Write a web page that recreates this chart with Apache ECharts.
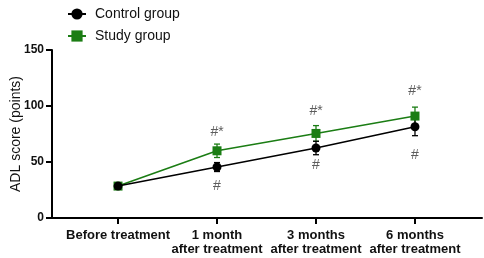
<!DOCTYPE html>
<html>
<head>
<meta charset="utf-8">
<script src="https://cdn.jsdelivr.net/npm/echarts@6/dist/echarts.min.js"></script>
<style>
  html, body { margin: 0; padding: 0; background: #fff; }
  #container { width: 484px; height: 258px; }
</style>
</head>
<body>
<div id="container"></div>
<script>
// time points on the x axis
const categories = ['Before treatment', '1 month\nafter treatment', '3 months\nafter treatment', '6 months\nafter treatment'];
const yTicks = [0, 50, 100, 150];

// group means and SD
const controlMean = [28.5, 45.5, 62.5, 81.5];
const controlSd = [2, 4, 6, 8];
const studyMean = [28.5, 60, 75.5, 91];
const studySd = [2, 6, 7, 8];

// significance marks, placed in data units
const studyMarks = ['', '#*', '#*', '#*'];
const studyMarkY = [null, 76.5, 95.5, 113];
const controlMarks = ['', '#', '#', '#'];
const controlMarkY = [null, 28, 47.5, 56.5];

const GREEN = '#1b7d14';
const FONT = 'Liberation Sans';

let dom = document.getElementById('container');
let myChart = echarts.init(dom);

function lineData(vals) {
    return vals.map((v, i) => [i, v]);
}

function errData(mean, sd) {
    return mean.map((v, i) => [i, v - sd[i], v + sd[i]]);
}

function errSeries(mean, sd, color) {
    return {
        type: 'custom',
        z: 1,
        silent: true,
        data: errData(mean, sd),
        renderItem: function (params, api) {
            let lo = api.coord([api.value(0), api.value(1)]);
            let hi = api.coord([api.value(0), api.value(2)]);
            let cap = 3;
            let style = { stroke: color, lineWidth: 1.3 };
            return {
                type: 'group',
                children: [
                    { type: 'line', shape: { x1: lo[0], y1: lo[1], x2: hi[0], y2: hi[1] }, style },
                    { type: 'line', shape: { x1: lo[0] - cap, y1: lo[1], x2: lo[0] + cap, y2: lo[1] }, style },
                    { type: 'line', shape: { x1: hi[0] - cap, y1: hi[1], x2: hi[0] + cap, y2: hi[1] }, style }
                ]
            };
        }
    };
}

function markSeries(labels, ys) {
    return {
        type: 'scatter',
        symbolSize: 0,
        silent: true,
        data: ys.map((y, i) => ({ value: [i, y], label: { formatter: labels[i] } })).filter(d => d.value[1] !== null),
        label: {
            show: true,
            position: 'inside',
            color: '#333',
            fontFamily: FONT,
            fontSize: 14
        }
    };
}

let option = {
    animation: false,
    textStyle: { fontFamily: FONT },
    legend: {
        orient: 'vertical',
        left: 62,
        top: 2,
        itemGap: 8,
        itemWidth: 18,
        itemHeight: 14,
        data: ['Control group', 'Study group'],
        textStyle: { fontSize: 14, color: '#111', fontFamily: FONT, padding: [0, 0, 0, 4] }
    },
    grid: { left: 52, right: 2, top: 50, bottom: 40, outerBoundsMode: 'none' },
    xAxis: {
        type: 'value',
        min: -0.667,
        max: 3.677,
        axisLine: { lineStyle: { color: '#000', width: 2 } },
        splitLine: { show: false },
        axisTick: { show: true, customValues: [0, 1, 2, 3], length: 6, lineStyle: { color: '#000', width: 2 } },
        axisLabel: {
            customValues: [0, 1, 2, 3],
            formatter: v => categories[Math.round(v)],
            color: '#111',
            fontWeight: 'bold',
            fontSize: 13,
            lineHeight: 14,
            margin: 10,
            hideOverlap: false
        }
    },
    yAxis: {
        type: 'value',
        min: yTicks[0],
        max: yTicks[yTicks.length - 1],
        interval: 50,
        name: 'ADL score (points)',
        nameLocation: 'middle',
        nameGap: 29,
        nameMoveOverlap: false,
        nameTextStyle: { fontSize: 14, color: '#111', fontFamily: FONT },
        axisLine: { show: true, onZero: false, lineStyle: { color: '#000', width: 2 } },
        axisTick: { show: true, length: 6, lineStyle: { color: '#000', width: 2 } },
        splitLine: { show: false },
        axisLabel: { color: '#111', fontWeight: 'bold', fontSize: 12, margin: 8 }
    },
    series: [
        {
            name: 'Control group',
            type: 'line',
            z: 4,
            data: lineData(controlMean),
            symbol: 'circle',
            symbolSize: 9,
            itemStyle: { color: '#000' },
            lineStyle: { color: '#000', width: 1.6 }
        },
        {
            name: 'Study group',
            type: 'line',
            z: 3,
            data: lineData(studyMean),
            symbol: 'rect',
            symbolSize: 9,
            itemStyle: { color: GREEN },
            lineStyle: { color: GREEN, width: 1.6 }
        },
        errSeries(studyMean, studySd, GREEN),
        errSeries(controlMean, controlSd, '#000'),
        markSeries(studyMarks, studyMarkY),
        markSeries(controlMarks, controlMarkY)
    ]
};
myChart.setOption(option);
</script>
</body>
</html>
